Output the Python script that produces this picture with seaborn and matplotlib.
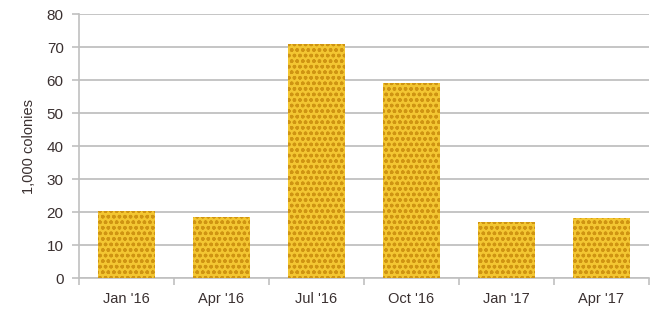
import pandas as pd
import matplotlib
matplotlib.use("Agg")
import matplotlib.pyplot as plt
import seaborn as sns

# colonies lost per quarter, thousands
quarters = ["Jan '16", "Apr '16", "Jul '16", "Oct '16", "Jan '17", "Apr '17"]
colonies = [20.2, 18.5, 71.0, 59.0, 17.0, 18.2]

df = pd.DataFrame({"quarter": quarters, "colonies": colonies})

sns.set_style("white")
plt.rcParams['font.family'] = ['Liberation Sans', 'DejaVu Sans']
plt.rcParams['hatch.color'] = '#CF9412'
plt.rcParams['hatch.linewidth'] = 1.0

fig = plt.figure(figsize=(6.55, 3.09), dpi=100)
ax = fig.add_axes([0.1206, 0.1003, 0.870, 0.854])

g = sns.barplot(x='quarter', y='colonies', data=df, color='#F3C632',
                width=0.6, saturation=1, ax=ax, zorder=3)
for bar in g.patches:
    bar.set_hatch('ooo')
    bar.set_edgecolor('#CF9412')
    bar.set_linewidth(0)

ax.set_ylim(0, 80)
ax.set_yticks(range(0, 81, 10))
ax.set_xlim(-0.5, len(quarters) - 0.5)
ax.yaxis.grid(True, color='#C0C0C0', linewidth=1.3, zorder=0)
ax.set_axisbelow(True)

for side in ['top', 'right']:
    ax.spines[side].set_visible(False)
for side in ['left', 'bottom']:
    ax.spines[side].set_color('#C0C0C0')
    ax.spines[side].set_linewidth(1.2)

# category boundary ticks on x
ax.set_xticks(range(len(quarters)))
ax.set_xticklabels(quarters)
ax.set_xticks([i - 0.5 for i in range(len(quarters) + 1)], minor=True)
ax.tick_params(axis='x', which='major', length=0, pad=10,
               labelsize=10.5, labelcolor='#3a3030')
ax.tick_params(axis='x', which='minor', length=5, width=1.2,
               color='#C0C0C0', direction='out', bottom=True)
ax.tick_params(axis='y', length=5, width=1.2, color='#C0C0C0',
               direction='out', left=True, labelsize=11,
               labelcolor='#3a3030', pad=6)

ax.set_xlabel('')
ax.set_ylabel('1,000 colonies', fontsize=10.5, color='#3a3030', labelpad=8)

plt.savefig('out.png', dpi=100)
